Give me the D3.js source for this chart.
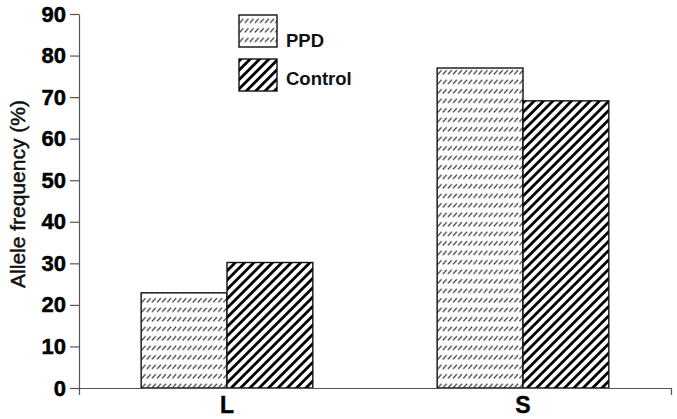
<!DOCTYPE html>
<html>
<head>
<meta charset="utf-8">
<script src="https://cdn.jsdelivr.net/npm/d3@7"></script>
<style>
  body { margin: 0; background: #fff; }
  svg { display: block; font-family: "Liberation Sans", Arial, sans-serif; }
</style>
</head>
<body>
<div id="chart"></div>
<script>
const CATEGORIES = ['L', 'S']
const SERIES = ['PPD', 'Control']
const PPD_VALUES = [22.9, 77.0]
const CONTROL_VALUES = [30.2, 69.1]
const Y_TICKS = [0, 10, 20, 30, 40, 50, 60, 70, 80, 90]

const WIDTH = 677, HEIGHT = 419
const M = { top: 14, right: 6, bottom: 31, left: 79 }

let svg = d3.select('#chart').append('svg')
  .attr('width', WIDTH)
  .attr('height', HEIGHT)

let defs = svg.append('defs')

// PPD: rows of small slashes
let pp = defs.append('pattern')
  .attr('id', 'pat-ppd')
  .attr('patternUnits', 'userSpaceOnUse')
  .attr('width', 5.1).attr('height', 9.5)
pp.append('rect').attr('width', 5.1).attr('height', 9.5).attr('fill', '#fff')
pp.append('path')
  .attr('d', 'M0.6,8 L4.4,3.6')
  .attr('stroke', '#222').attr('stroke-width', 1.1)

// Control: thick diagonal stripes
let pc = defs.append('pattern')
  .attr('id', 'pat-control')
  .attr('patternUnits', 'userSpaceOnUse')
  .attr('width', 6.6).attr('height', 10)
  .attr('patternTransform', 'rotate(45)')
pc.append('rect').attr('width', 6.6).attr('height', 10).attr('fill', '#fff')
pc.append('rect').attr('x', 0).attr('width', 2.8).attr('height', 10).attr('fill', '#000')

const FILLS = { PPD: 'url(#pat-ppd)', Control: 'url(#pat-control)' }

let x = d3.scaleBand()
  .domain(CATEGORIES)
  .range([M.left, WIDTH - M.right])
  .paddingInner(0.42)
  .paddingOuter(0.21)

let xs = d3.scaleBand()
  .domain(SERIES)
  .range([0, x.bandwidth()])

let y = d3.scaleLinear()
  .domain([0, 90])
  .range([HEIGHT - M.bottom, M.top])

let rows = CATEGORIES.map((c, i) => ({ cat: c, PPD: PPD_VALUES[i], Control: CONTROL_VALUES[i] }))

let group = svg.append('g')
  .selectAll('g')
  .data(rows)
  .enter().append('g')
    .attr('transform', (d) => 'translate(' + x(d.cat) + ',0)')

group.selectAll('rect')
  .data((d) => SERIES.map((s) => ({ s: s, v: d[s] })))
  .enter().append('rect')
    .attr('x', (d) => xs(d.s))
    .attr('y', (d) => y(d.v))
    .attr('width', xs.bandwidth())
    .attr('height', (d) => y(0) - y(d.v))
    .attr('fill', (d) => FILLS[d.s])
    .attr('stroke', '#111')
    .attr('stroke-width', 1.4)

// axes
let yAxis = svg.append('g')
  .attr('transform', 'translate(' + M.left + ',0)')
  .call(d3.axisLeft(y).tickValues(Y_TICKS).tickSizeInner(9).tickSizeOuter(0).tickPadding(4))
yAxis.selectAll('text')
  .attr('font-size', 22).attr('font-weight', 'bold').attr('fill', '#000')
  .attr('stroke', '#000').attr('stroke-width', 0.5)
  .attr('font-family', '"Liberation Sans", Arial, sans-serif')

let xAxis = svg.append('g')
  .attr('transform', 'translate(0,' + y(0) + ')')
  .call(d3.axisBottom(x).tickSizeInner(0).tickSizeOuter(7).tickPadding(9))
xAxis.selectAll('text')
  .attr('font-size', 23).attr('font-weight', 'bold').attr('fill', '#000')
  .attr('stroke', '#000').attr('stroke-width', 0.4)
  .attr('font-family', '"Liberation Sans", Arial, sans-serif')

svg.selectAll('.domain, .tick line').attr('stroke', '#555').attr('stroke-width', 1.2)

// y title
svg.append('text')
  .attr('transform', 'translate(25,' + 194 + ') rotate(-90)')
  .attr('text-anchor', 'middle')
  .attr('font-size', 21)
  .attr('fill', '#111')
  .attr('stroke', '#111').attr('stroke-width', 0.5)
  .text('Allele frequency (%)')

// legend
let legend = svg.append('g')
  .selectAll('g')
  .data(SERIES)
  .enter().append('g')
    .attr('transform', (d, i) => 'translate(239,' + (15 + i * 44) + ')')

legend.append('rect')
  .attr('width', 38).attr('height', 32)
  .attr('fill', (d) => FILLS[d])
  .attr('stroke', '#111').attr('stroke-width', 1.4)

legend.append('text')
  .attr('x', 47).attr('y', (d, i) => i === 0 ? 31.5 : 26)
  .attr('font-size', 18.5).attr('font-weight', 'bold').attr('fill', '#111')
  .text((d) => d)
</script>
</body>
</html>
